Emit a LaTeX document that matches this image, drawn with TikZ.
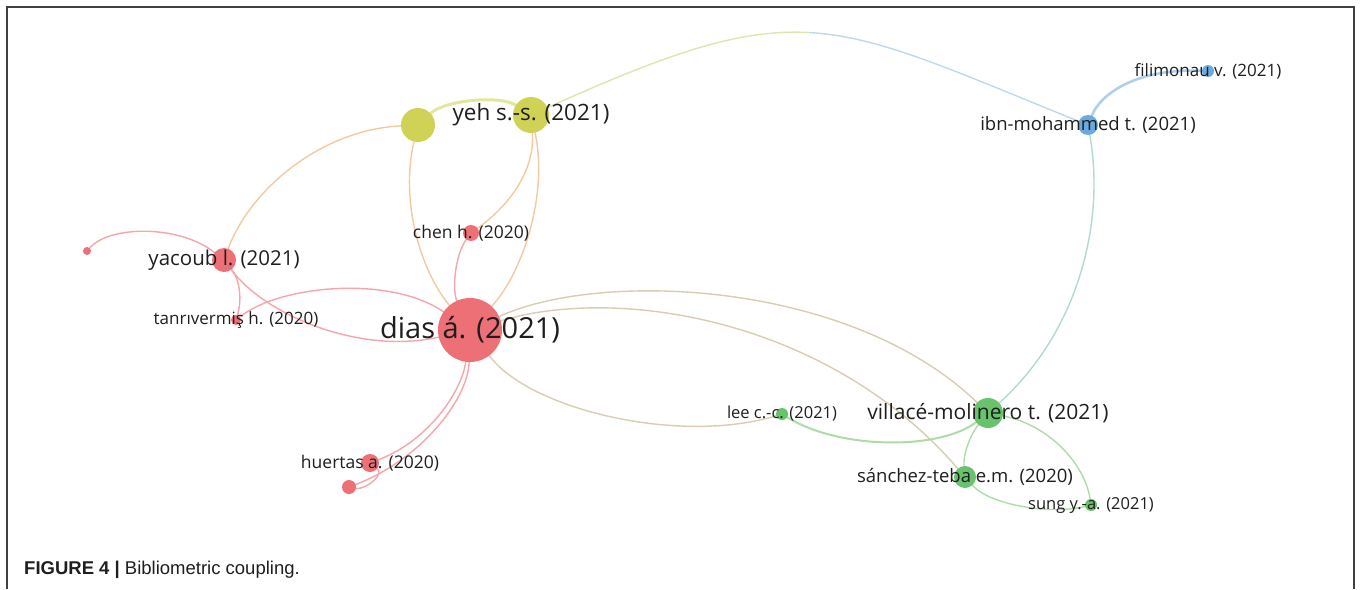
\documentclass[tikz,border=0pt]{standalone}
\usepackage{fontspec}
\setmainfont{Open Sans}
\newfontfamily\capfont{Liberation Sans}
\usetikzlibrary{backgrounds}
\definecolor{txt}{RGB}{30,30,30}
\definecolor{nred}{RGB}{235,96,104}
\definecolor{nyel}{RGB}{203,205,68}
\definecolor{ngrn}{RGB}{88,188,92}
\definecolor{nblu}{RGB}{92,160,218}
\definecolor{eR}{RGB}{246,165,170}
\definecolor{eRY}{RGB}{244,200,160}
\definecolor{eY}{RGB}{226,232,155}
\definecolor{eYB1}{RGB}{222,230,172}
\definecolor{eYB2}{RGB}{192,216,232}
\definecolor{eRG}{RGB}{216,205,178}
\definecolor{eG}{RGB}{172,220,168}
\definecolor{eB}{RGB}{175,208,236}
\definecolor{eGB}{RGB}{178,216,212}
\definecolor{frm}{RGB}{64,64,64}
\tikzset{
  nd/.style={circle, inner sep=0pt, draw=none, fill opacity=.9},
  lbl/.style={text=txt, inner sep=0pt, anchor=center},
  edg/.style={line width=1.4pt, line cap=round},
  frame/.style={draw=frm, line width=1.3pt}
}
\newcommand{\fs}[1]{\fontsize{#1}{#1}\selectfont}
\begin{document}
\begin{tikzpicture}[x=1pt,y=-1pt]
\useasboundingbox (0,0) rectangle (1360,589);
\draw[frame] (7,589) -- (7,7) -- (1354,7) -- (1354,589);

% nodes
\node[nd, fill=nred, minimum size=64pt] (dias) at (470,330) {};
\node[nd, fill=nyel, minimum size=34pt] (yehL) at (418,125) {};
\node[nd, fill=nyel, minimum size=36pt] (yehR) at (531,115) {};
\node[nd, fill=nred, minimum size=16pt] (chen) at (471,233) {};
\node[nd, fill=nred, minimum size=24pt] (yac) at (224,260) {};
\node[nd, fill=nred, minimum size=8pt] (dotA) at (87,251) {};
\node[nd, fill=nred, minimum size=10pt] (tanr) at (236,320) {};
\node[nd, fill=nred, minimum size=18pt] (hue) at (370,463) {};
\node[nd, fill=nred, minimum size=14pt] (dotB) at (349,487) {};
\node[nd, fill=nblu, minimum size=20pt] (ibn) at (1088,125) {};
\node[nd, fill=nblu, minimum size=12pt] (fil) at (1208,71) {};
\node[nd, fill=ngrn, minimum size=30pt] (vil) at (988,413) {};
\node[nd, fill=ngrn, minimum size=12pt] (lee) at (782,414) {};
\node[nd, fill=ngrn, minimum size=22pt] (san) at (965,477) {};
\node[nd, fill=ngrn, minimum size=12pt] (sung) at (1091,505) {};
\coordinate (topYB) at (810,32.6);

% edges (behind the nodes)
\begin{pgfonlayer}{background}
\draw[edg, eR] (dotA) .. controls (110,225) and (180,225) .. (yac);
\draw[edg, eRY] (yac) .. controls (250,190) and (320,130) .. (yehL);
\draw[edg, eR] (yac) .. controls (240,280) and (242,300) .. (tanr);
\draw[edg, eR] (yac) .. controls (265,315) and (360,355) .. (dias);
\draw[edg, eR] (tanr) .. controls (280,285) and (390,275) .. (dias);
\draw[edg, eR] (chen) .. controls (455,255) and (452,290) .. (dias);
\draw[edg, eRY] (chen) .. controls (510,205) and (535,170) .. (yehR);
\draw[edg, eRY] (yehL) .. controls (400,200) and (420,270) .. (dias);
\draw[edg, eRY] (yehR) .. controls (548,190) and (525,270) .. (dias);
\draw[edg, eY, line width=3pt] (yehL) .. controls (445,100) and (500,95) .. (yehR);
\draw[edg, eYB1] (yehR) .. controls (668,53.5) and (739,28.5) .. (topYB);
\draw[edg, eYB2] (topYB) .. controls (880.75,36.75) and (951.5,70) .. (ibn);
\draw[edg, eB, line width=2.6pt] (ibn) .. controls (1100,95) and (1135,68) .. (fil);
\draw[edg, eGB] (ibn) .. controls (1105,220) and (1080,330) .. (vil);
\draw[edg, eR] (dias) .. controls (462,390) and (430,440) .. (hue);
\draw[edg, eR] (dias) .. controls (468,400) and (420,460) .. (dotB);
\draw[edg, eR] (hue) .. controls (385,475) and (365,490) .. (dotB);
\draw[edg, eRG] (dias) .. controls (600,270) and (850,280) .. (vil);
\draw[edg, eRG] (dias) .. controls (620,285) and (830,320) .. (san);
\draw[edg, eRG] (dias) .. controls (530,410) and (680,445) .. (lee);
\draw[edg, eG, line width=2pt] (lee) .. controls (840,450) and (940,450) .. (vil);
\draw[edg, eG] (vil) .. controls (970,435) and (963,455) .. (san);
\draw[edg, eG] (vil) .. controls (1050,425) and (1085,465) .. (sung);
\draw[edg, eG] (san) .. controls (990,505) and (1050,515) .. (sung);
\end{pgfonlayer}

% labels
\node[lbl, font=\fs{29}] (lDias) at (dias) {dias á. (2021)};
\node[lbl, font=\fs{22.5}] (lYeh) at (yehR) {yeh s.-s. (2021)};
\node[lbl, font=\fs{17.5}] (lChen) at (chen) {chen h. (2020)};
\node[lbl, font=\fs{20.5}] (lYac) at (yac) {yacoub l. (2021)};
\node[lbl, font=\fs{17}] (lTanr) at (tanr) {tanrıvermiş h. (2020)};
\node[lbl, font=\fs{17.5}] (lHue) at (hue) {huertas a. (2020)};
\node[lbl, font=\fs{18.5}] (lIbn) at (ibn) {ibn-mohammed t. (2021)};
\node[lbl, font=\fs{17}] (lFil) at (fil) {filimonau v. (2021)};
\node[lbl, font=\fs{21}] (lVil) at (vil) {villacé-molinero t. (2021)};
\node[lbl, font=\fs{16.5}] (lLee) at (lee) {lee c.-c. (2021)};
\node[lbl, font=\fs{18.5}] (lSan) at (san) {sánchez-teba e.m. (2020)};
\node[lbl, font=\fs{16.5}] (lSung) at (sung) {sung y.-a. (2021)};

\node[anchor=west, inner sep=0pt, text=txt, font=\capfont\fs{18.5}] (cap) at (24,570) {\textbf{FIGURE 4 |} Bibliometric coupling.};
\end{tikzpicture}
\end{document}
